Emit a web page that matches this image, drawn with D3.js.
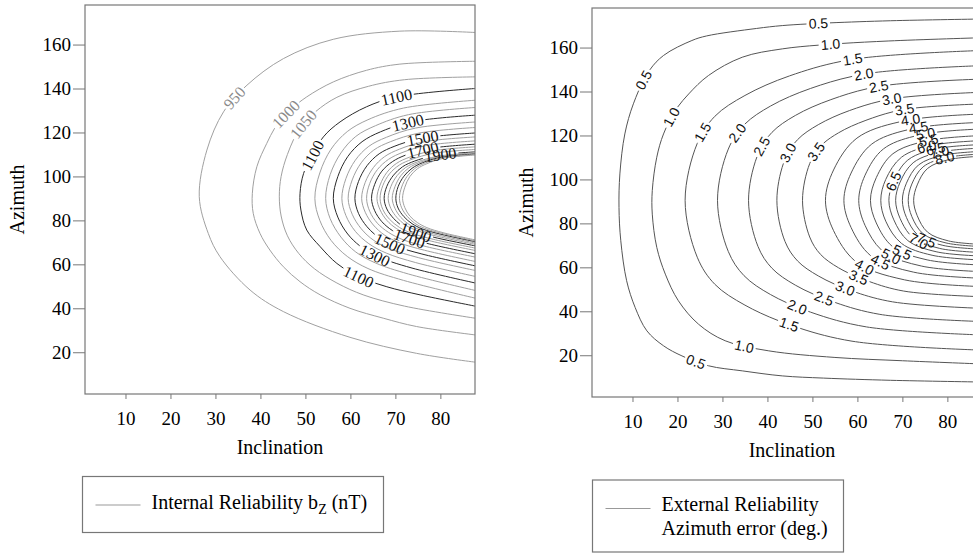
<!DOCTYPE html>
<html>
<head>
<meta charset="utf-8">
<script src="https://cdn.jsdelivr.net/npm/d3@7"></script>
<style>
  body { margin: 0; background: #fff; }
  svg text { font-family: "Liberation Serif", "Times New Roman", serif; fill: #000; }
</style>
</head>
<body>
<svg id="chart" width="973" height="554"></svg>
<script>
// ---- data ----
const incTicks = [10, 20, 30, 40, 50, 60, 70, 80];
const aziTicks = [20, 40, 60, 80, 100, 120, 140, 160];

// left panel: internal reliability bz (nT), one polyline [inclination, azimuth] per level
const bzLevels = [950, 1000, 1050, 1100, 1167, 1233, 1300, 1367, 1433, 1500, 1567, 1633,
                  1700, 1767, 1833, 1900, 1967, 2033, 2100, 2167, 2233];
const bzMajor = [1100, 1300, 1500, 1700, 1900, 2100];
const bzLines = [
  [[87.7,165.5],[71,166.1],[56.2,162.4],[45.1,153.6],[37,141.5],[31.8,129.4],[28.1,112],[26.4,90.8],[28.4,74.1],[31,63.5],[37.7,48.3],[45.1,38.5],[59.9,26.8],[74.7,19.5],[87.7,15.5]],
  [[87.7,152.4],[71,151.1],[63.6,148.3],[56.2,143],[50.3,136.2],[46.6,130.2],[43.6,123.3],[41.4,115],[39.2,104.4],[38.2,92.3],[38.4,83.2],[39.9,74.1],[42.1,66.5],[45.1,58.9],[48.8,52.1],[53.3,46.1],[59.9,40],[67.3,35.5],[74.7,31.7],[87.7,27.9]],
  [[87.7,145.3],[72,144],[64,141],[57,136],[52,129],[48.5,121],[46,110],[44.6,100],[44.2,91],[44.6,82],[46,73],[48.5,65],[52,58],[57,51.5],[63,46],[72,41],[87.7,35.5]],
  [[87.7,140],[70.3,136.2],[63.6,131.7],[57.7,124.8],[54,118],[51.4,108.9],[49.6,101.4],[48.8,92.3],[49,84.7],[50.3,75.6],[53.3,68],[57,60.4],[61.8,54.4],[68.1,49.8],[75.5,46.1],[87.7,41]],
  [[88,134.7],[71.8,131.1],[63.9,125.8],[59.3,120.4],[55.7,112.4],[53.2,101.6],[52.1,90],[53.2,80],[55.7,70.9],[59.3,63.6],[63.9,58.1],[71.8,52.7],[88,44.5]],
  [[88,131.4],[72.9,128.1],[65.6,123.1],[61.2,118.2],[57.9,110.7],[55.5,100.8],[54.5,90],[55.5,80.8],[57.9,72.4],[61.2,65.6],[65.6,60.6],[72.9,55.6],[88,48]],
  [[88,127.9],[73.7,124.9],[66.7,120.3],[62.6,115.8],[59.4,109],[57.2,99.9],[56.2,90],[57.2,81.5],[59.4,73.8],[62.6,67.6],[66.7,63],[73.7,58.3],[88,51.4]],
  [[88,124.8],[74.5,122],[68,117.8],[64.1,113.7],[61.1,107.4],[59,99],[58.1,90],[59,82.2],[61.1,75],[64.1,69.4],[68,65.1],[74.5,60.8],[88,54.4]],
  [[88,122.3],[75.2,119.7],[68.9,115.8],[65.2,112],[62.4,106.2],[60.4,98.4],[59.5,90],[60.4,82.8],[62.4,76.2],[65.2,70.9],[68.9,67],[75.2,63],[88,57.1]],
  [[88,119.8],[75.9,117.4],[69.9,113.8],[66.4,110.3],[63.7,104.9],[61.8,97.7],[61,90],[61.8,83.2],[63.7,77.1],[66.4,72.1],[69.9,68.4],[75.9,64.7],[88,59.2]],
  [[88,118],[76.5,115.8],[70.9,112.4],[67.6,109],[65.1,104],[63.3,97.3],[62.5,90],[63.3,83.7],[65.1,77.9],[67.6,73.3],[70.9,69.8],[76.5,66.4],[88,61.2]],
  [[88,116.2],[77,114.1],[71.7,111],[68.5,107.8],[66,103.1],[64.3,96.8],[63.6,90],[64.3,84.1],[66,78.7],[68.5,74.5],[71.7,71.2],[77,68],[88,63.2]],
  [[88,114.7],[77.5,112.7],[72.4,109.8],[69.4,106.8],[67,102.4],[65.4,96.4],[64.7,90],[65.4,84.4],[67,79.4],[69.4,75.3],[72.4,72.3],[77.5,69.3],[88,64.7]],
  [[88,113.5],[78.1,111.6],[73.2,108.8],[70.3,106],[68.1,101.8],[66.6,96.1],[65.9,90],[66.6,84.8],[68.1,80],[70.3,76.2],[73.2,73.3],[78.1,70.5],[88,66.2]],
  [[88,112.3],[78.4,110.5],[73.7,107.8],[70.9,105.2],[68.7,101.2],[67.2,95.8],[66.6,90],[67.2,85],[68.7,80.5],[70.9,76.8],[73.7,74.1],[78.4,71.4],[88,67.3]],
  [[88,111.2],[78.8,109.5],[74.3,107],[71.6,104.4],[69.6,100.6],[68.1,95.5],[67.5,90],[68.1,85.2],[69.6,80.9],[71.6,77.4],[74.3,74.8],[78.8,72.2],[88,68.3]],
  [[88,110.8],[79.2,109.1],[74.9,106.6],[72.3,104.1],[70.4,100.4],[69,95.4],[68.4,90],[69,85.4],[70.4,81.2],[72.3,77.8],[74.9,75.3],[79.2,72.8],[88,69]],
  [[88,110.5],[79.6,108.9],[75.5,106.4],[73,103.9],[71.2,100.3],[69.9,95.3],[69.3,90],[69.9,85.5],[71.2,81.4],[73,78.2],[75.5,75.7],[79.6,73.3],[88,69.6]],
  [[88,110.2],[79.9,108.6],[76,106.2],[73.7,103.7],[71.9,100.1],[70.6,95.3],[70.1,90],[70.6,85.6],[71.9,81.7],[73.7,78.5],[76,76.1],[79.9,73.8],[88,70.2]],
  [[88,110],[80.3,108.4],[76.5,106],[74.3,103.6],[72.6,100],[71.4,95.2],[70.9,90],[71.4,85.7],[72.6,81.9],[74.3,78.7],[76.5,76.4],[80.3,74.1],[88,70.6]],
  [[88,109.8],[80.6,108.2],[77,105.8],[74.9,103.5],[73.2,99.9],[72.1,95.1],[71.6,90],[72.1,85.8],[73.2,82],[74.9,79],[77,76.7],[80.6,74.4],[88,71]]
];

// right panel: external reliability, azimuth error (deg.)
const azLevels = [0.5, 1.0, 1.5, 2.0, 2.5, 3.0, 3.5, 4.0, 4.5, 5.0, 5.5, 6.0, 6.5, 7.0, 7.5, 8.0, 8.5];
const azLines = [
  [[88,173],[67.4,172.2],[52.5,171.1],[43.3,170],[37.6,168.7],[26.5,165.3],[23.2,163.2],[16.9,156.4],[13.5,148.8],[10.2,134.4],[8.3,120.7],[7.2,102.5],[7,87.3],[7.4,72.1],[8.7,53.9],[10.6,41.7],[13.2,31.1],[16.9,24.3],[21,19.7],[26.9,15.2],[34.4,12.9],[43.3,10.6],[52.5,9.6],[67.4,8.6],[88,7.8]],
  [[88,164.5],[67,163],[54,161.5],[43.3,159.4],[34.4,155.6],[26.9,147.3],[22.5,138.9],[19.5,131.3],[16.9,120.7],[15.4,110.1],[14.4,94.9],[14.4,84.2],[15.4,69.1],[17.3,56.9],[20.2,44.8],[24.7,34.1],[30.6,26.6],[40.3,22],[55,19],[70,17.5],[88,16]],
  [[88,158.7],[58.8,154.6],[44.9,147.1],[35,138.2],[28.3,128.7],[24.4,116.4],[21.7,90.5],[24.4,64.6],[28.3,52.3],[35,42.8],[44.9,33.9],[58.8,26.4],[88,22.3]],
  [[88,151.8],[62,148.1],[49.6,141.4],[40.7,133.4],[34.8,124.8],[31.3,113.8],[28.9,90.5],[31.3,67.2],[34.8,56.2],[40.7,47.6],[49.6,39.6],[62,32.9],[88,29.2]],
  [[88,145.7],[65,142.4],[54.1,136.3],[46.2,129.1],[41,121.4],[37.9,111.5],[35.8,90.5],[37.9,69.5],[41,59.6],[46.2,51.9],[54.1,44.7],[65,38.6],[88,35.3]],
  [[88,139.7],[67.8,136.7],[58.2,131.3],[51.3,124.9],[46.7,118.1],[43.9,109.2],[42.1,90.5],[43.9,71.8],[46.7,62.9],[51.3,56.1],[58.2,49.7],[67.8,44.3],[88,41.3]],
  [[88,134.4],[70.3,131.8],[61.9,126.9],[55.8,121.2],[51.8,115.1],[49.4,107.2],[47.8,90.5],[49.4,73.8],[51.8,65.9],[55.8,59.8],[61.9,54.1],[70.3,49.2],[88,46.6]],
  [[88,129.8],[70.5,126.7],[59.9,118.8],[54.7,104.3],[52.9,90.5],[54.7,76.7],[59.9,62.2],[70.5,54.3],[88,51.2]],
  [[88,126],[72.5,123.2],[63.2,116.1],[58.6,102.9],[57,90.5],[58.6,78.1],[63.2,64.9],[72.5,57.8],[88,55]],
  [[88,123],[74.2,120.4],[65.8,113.9],[61.7,101.9],[60.3,90.5],[61.7,79.1],[65.8,67.1],[74.2,60.6],[88,58]],
  [[88,120],[75.5,117.6],[67.9,111.7],[64.2,100.8],[62.9,90.5],[64.2,80.2],[67.9,69.3],[75.5,63.4],[88,61]],
  [[88,117.7],[76.6,115.5],[69.8,110.1],[66.3,100],[65.2,90.5],[66.3,81],[69.8,70.9],[76.6,65.5],[88,63.3]],
  [[88,115.9],[77.5,113.9],[71.2,108.8],[68.1,99.4],[67,90.5],[68.1,81.6],[71.2,72.2],[77.5,67.1],[88,65.1]],
  [[88,114.3],[78.3,112.4],[72.4,107.6],[69.5,98.8],[68.5,90.5],[69.5,82.2],[72.4,73.4],[78.3,68.6],[88,66.7]],
  [[88,112.8],[79,111],[73.6,106.6],[70.9,98.3],[70,90.5],[70.9,82.7],[73.6,74.4],[79,70],[88,68.2]],
  [[88,111.6],[79.7,109.9],[74.6,105.7],[72.1,97.9],[71.3,90.5],[72.1,83.1],[74.6,75.3],[79.7,71.1],[88,69.4]],
  [[88,110.6],[80.3,109],[75.6,105],[73.3,97.5],[72.5,90.5],[73.3,83.5],[75.6,76],[80.3,72],[88,70.4]]
];

// where the contour labels sit: [level, inclination, azimuth] (snapped onto the line)
const bzLabelAt = [[950,34.9,134.7],[1000,45.5,128.6],[1050,50.7,121.8],[1100,70.3,136.2],[1100,51.4,109.7],
  [1100,61.4,52.9],[1300,72.9,123.3],[1300,65.9,65.8],[1500,75.9,118],[1500,69.2,71.1],
  [1700,76.2,111.2],[1700,73.6,74.1],[1900,79.9,110.8],[1900,74.7,75.6]];
const azLabelAt = [[0.5,12.7,144.8],[1.0,18.9,128.1],[1.5,25.7,121.3],[2.0,33.6,120.6],[2.5,39.9,113.7],
  [3.0,46,110.7],[3.5,52.2,110.7],[6.5,68.2,98.8],
  [0.5,51.4,170.2],[1.0,54,162.3],[1.5,58.9,154.7],[2.0,61.5,147.4],[2.5,64.8,141.3],[3.0,67.8,135.7],
  [3.5,70.4,131.9],[4.0,71.9,127.4],[4.5,73.7,122],[5.0,75.2,119.8],[5.5,76,117],[6.0,75.6,113.7],
  [6.5,77.5,112.5],[7.0,78.5,111],[8.0,79.7,107.9],
  [0.5,23.9,16.5],[1.0,35,24.8],[1.5,44.3,30.9],[2.0,46.2,40],[2.5,52.5,45.4],[3.0,57.4,51.4],
  [3.5,60.3,56],[4.0,61.8,61.3],[4.5,65.5,63.6],[5.0,67.8,65.9],[5.5,70,67],[7.0,73,70],[7.5,74.9,69.7]];

// ---- drawing ----
const svg = d3.select('#chart');
const panelW = 390, panelH = 389;
const SERIF = '"Liberation Serif", "Times New Roman", serif';
const SANS = '"Liberation Sans", Arial, sans-serif';

function drawPanel(opt) {
  const g = svg.append('g').attr('transform', `translate(${opt.left},${opt.top})`);
  const x = d3.scaleLinear().domain([1, 87.7]).range([0, panelW]);
  const y = d3.scaleLinear().domain([1, 178]).range([panelH, 0]);

  g.append('clipPath').attr('id', opt.id + 'clip')
    .append('rect').attr('width', panelW).attr('height', panelH);

  const xAxis = g.append('g').attr('transform', `translate(0,${panelH})`)
    .call(d3.axisBottom(x).tickValues(incTicks).tickSize(5).tickSizeOuter(0).tickPadding(13));
  const yAxis = g.append('g')
    .call(d3.axisLeft(y).tickValues(aziTicks).tickSize(12).tickSizeOuter(0).tickPadding(2));
  [xAxis, yAxis].forEach(a => {
    a.attr('font-family', SERIF).attr('font-size', 19);
    a.select('.domain').remove();
    a.selectAll('line').attr('stroke', '#777');
    a.selectAll('text').attr('font-family', SERIF).style('font-family', SERIF)
      .style('font-size', '19px').attr('fill', '#000');
  });

  const line = d3.line().x(d => x(d[0])).y(d => y(d[1])).curve(d3.curveCatmullRom.alpha(0.5));
  const cg = g.append('g').attr('clip-path', `url(#${opt.id}clip)`);
  const items = opt.levels.map((lv, i) => ({ lv, pts: opt.lines[i] }));
  const paths = cg.selectAll('path').data(items).join('path')
    .attr('d', d => line(d.pts))
    .attr('fill', 'none')
    .attr('stroke', d => opt.lineColor(d.lv))
    .attr('stroke-width', 1);

  // contour labels, placed on their line with a gap cut into it
  const gaps = new Map();
  const lg = cg.append('g');
  opt.labels.forEach(([lv, inc, az]) => {
    const idx = opt.levels.indexOf(lv);
    if (idx < 0) return;
    const node = paths.nodes()[idx];
    const len = node.getTotalLength();
    const tx = x(inc), ty = y(az);
    let best = 0, bestD = Infinity;
    for (let s = 0; s <= len; s += 1) {
      const p = node.getPointAtLength(s);
      const dd = (p.x - tx) ** 2 + (p.y - ty) ** 2;
      if (dd < bestD) { bestD = dd; best = s; }
    }
    const p = node.getPointAtLength(best);
    const p0 = node.getPointAtLength(Math.max(0, best - 3));
    const p1 = node.getPointAtLength(Math.min(len, best + 3));
    let ang = Math.atan2(p1.y - p0.y, p1.x - p0.x) * 180 / Math.PI;
    if (ang > 90) ang -= 180;
    if (ang < -90) ang += 180;
    const t = lg.append('text')
      .attr('transform', `translate(${p.x},${p.y}) rotate(${ang})`)
      .attr('text-anchor', 'middle')
      .attr('dy', '0.35em')
      .attr('font-family', opt.labelFont)
      .style('font-family', opt.labelFont)
      .style('font-size', opt.labelSize)
      .style('fill', opt.labelColor(lv))
      .text(opt.fmt(lv));
    const w = t.node().getComputedTextLength() + 4;
    if (!gaps.has(idx)) gaps.set(idx, []);
    gaps.get(idx).push([best - w / 2, best + w / 2]);
  });
  gaps.forEach((list, idx) => {
    const node = paths.nodes()[idx];
    const len = node.getTotalLength();
    list.sort((a, b) => a[0] - b[0]);
    const dash = [];
    let pos = 0;
    list.forEach(([a, b]) => {
      dash.push(Math.max(0, a - pos), b - a);
      pos = b;
    });
    dash.push(len - pos + 10, 0);
    d3.select(node).attr('stroke-dasharray', dash.join(' '));
  });

  g.append('rect').attr('width', panelW).attr('height', panelH)
    .attr('fill', 'none').attr('stroke', '#777').attr('stroke-width', 1.2);

  g.append('text').attr('x', opt.titleX).attr('y', panelH + 60)
    .attr('text-anchor', 'middle').style('font-size', '20px').text('Inclination');
  g.append('text').attr('transform', `translate(${opt.azX},${panelH / 2}) rotate(-90)`)
    .attr('text-anchor', 'middle').style('font-size', '20px').text('Azimuth');
}

drawPanel({
  id: 'bz', left: 85, top: 5, levels: bzLevels, lines: bzLines, labels: bzLabelAt,
  lineColor: lv => (bzMajor.includes(lv) ? '#2a2a2a' : '#a0a0a0'),
  labelColor: lv => (lv < 1100 ? '#8a8a8a' : '#111'),
  labelFont: SERIF, labelSize: '16px', fmt: d => String(d),
  titleX: panelW / 2, azX: -61
});
drawPanel({
  id: 'az', left: 592, top: 8, levels: azLevels, lines: azLines, labels: azLabelAt,
  lineColor: () => '#555',
  labelColor: () => '#111',
  labelFont: SANS, labelSize: '14px', fmt: d => d.toFixed(1),
  titleX: panelW / 2 + 5, azX: -59
});

// legends
function legend(x0, y0, w, h) {
  const g = svg.append('g');
  g.append('rect').attr('x', x0).attr('y', y0).attr('width', w).attr('height', h)
    .attr('fill', '#fff').attr('stroke', '#777').attr('stroke-width', 1.2);
  g.append('line').attr('x1', x0 + 13).attr('x2', x0 + 58).attr('y1', y0 + 28.5).attr('y2', y0 + 28.5)
    .attr('stroke', '#999').attr('stroke-width', 1.2);
  return g;
}
const lg1 = legend(82.5, 476.5, 301, 56);
const t1 = lg1.append('text').attr('x', 151.5).attr('y', 508.5).style('font-size', '20px');
t1.append('tspan').text('Internal Reliability b');
t1.append('tspan').attr('dy', 5).style('font-size', '14px').text('Z');
t1.append('tspan').attr('dy', -5).text(' (nT)');

const lg2 = legend(592.5, 480, 251, 72);
lg2.append('text').attr('x', 661.5).attr('y', 511).style('font-size', '20px').text('External Reliability');
lg2.append('text').attr('x', 661.5).attr('y', 534.5).style('font-size', '20px').text('Azimuth error (deg.)');
</script>
</body>
</html>
